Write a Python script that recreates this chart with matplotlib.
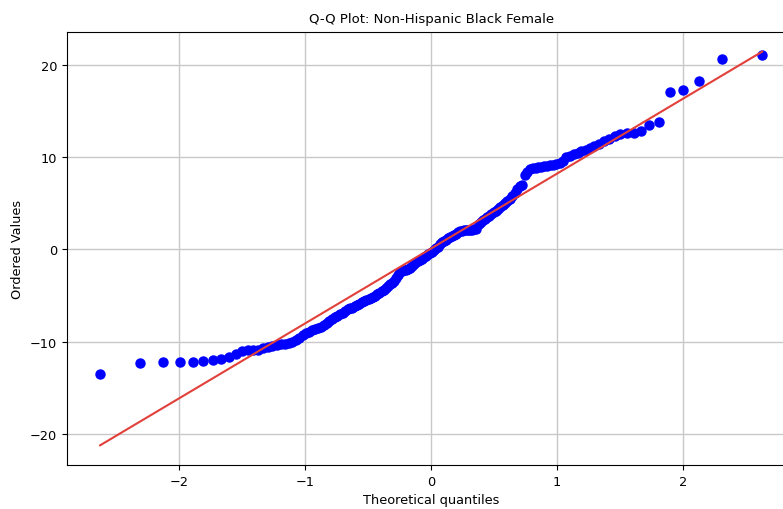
import numpy as np
import matplotlib
matplotlib.use("Agg")
import matplotlib.pyplot as plt
from statistics import NormalDist

# ordered sample values (smallest to largest)
ordered_values = [
    -13.45, -12.35, -12.25, -12.18, -12.15, -12.12, -12.0, -11.87, -11.65, -11.35,
    -11.0, -10.9, -10.88, -10.85, -10.7, -10.6, -10.45, -10.38, -10.3, -10.2,
    -10.12, -10.0, -9.85, -9.55, -9.3, -9.08, -8.9, -8.75, -8.65, -8.55,
    -8.45, -8.2, -8.0, -7.75, -7.55, -7.38, -7.2, -7.05, -6.9, -6.7,
    -6.5, -6.4, -6.3, -6.15, -6.0, -5.88, -5.75, -5.62, -5.5, -5.38,
    -5.25, -5.15, -5.0, -4.85, -4.7, -4.55, -4.38, -4.15, -3.95, -3.8,
    -3.62, -3.4, -3.1, -2.75, -2.45, -2.35, -2.28, -2.2, -2.12, -2.05,
    -1.85, -1.6, -1.4, -1.25, -1.15, -1.0, -0.85, -0.7, -0.55, -0.4,
    -0.25, -0.1, 0.1, 0.3, 0.55, 0.75, 0.9, 1.05, 1.2, 1.35,
    1.45, 1.55, 1.7, 1.85, 1.95, 2.0, 2.05, 2.05, 2.08, 2.1,
    2.12, 2.15, 2.2, 2.7, 3.0, 3.15, 3.3, 3.45, 3.6, 3.8,
    4.0, 4.2, 4.4, 4.6, 4.8, 5.0, 5.2, 5.5, 5.75, 6.1,
    6.5, 6.85, 7.0, 8.1, 8.4, 8.65, 8.8, 8.85, 8.9, 8.95,
    9.0, 9.05, 9.1, 9.15, 9.2, 9.35, 9.6, 9.95, 10.15, 10.3,
    10.45, 10.6, 10.75, 10.95, 11.15, 11.45, 11.7, 12.0, 12.3, 12.45,
    12.55, 12.65, 12.8, 13.45, 13.75, 17.0, 17.3, 18.2, 20.6, 21.1,
]

title = "Q-Q Plot: Non-Hispanic Black Female"
xlabel = "Theoretical quantiles"
ylabel = "Ordered Values"

# theoretical quantiles (Filliben medians, like scipy's probplot)
y = np.array(ordered_values)
n = len(y)
m = (np.arange(1, n + 1) - 0.3175) / (n + 0.365)
m[-1] = 0.5 ** (1.0 / n)
m[0] = 1 - m[-1]
nd = NormalDist()
osm = np.array([nd.inv_cdf(p) for p in m])

slope, intercept = np.polyfit(osm, y, 1)

fig = plt.figure(figsize=(7.83, 5.10), dpi=100)
ax = fig.add_axes([0.0856, 0.0863, 0.93, 0.849])

ax.plot(osm, y, "o", color="blue", markersize=6.5)
ax.plot(osm, slope * osm + intercept, "-", color="#e2403a", linewidth=1.5)

ax.set_title(title, fontsize=9.5, pad=7)
ax.set_xlabel(xlabel, fontsize=9.3)
ax.set_ylabel(ylabel, fontsize=9.3)
ax.tick_params(labelsize=9.3)
ax.set_xticks([-2, -1, 0, 1, 2])
ax.set_yticks([-20, -10, 0, 10, 20])
ax.grid(True, color="#c8c8c8", linewidth=1)

fig.savefig("out.png", dpi=100)
